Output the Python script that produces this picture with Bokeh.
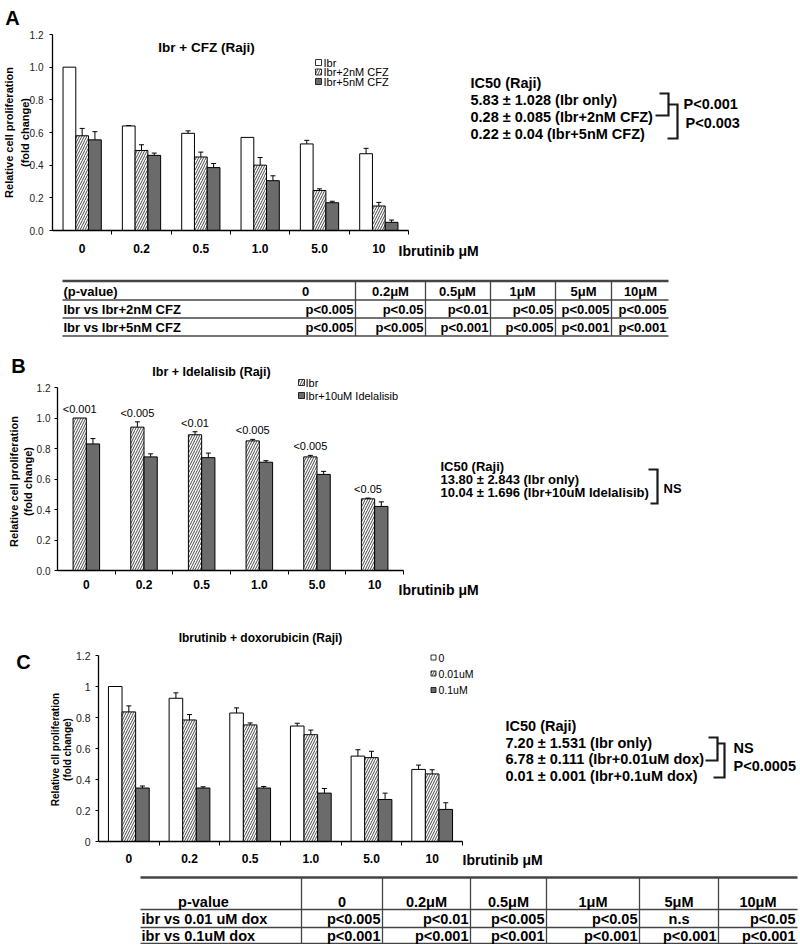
import math
from bokeh.plotting import figure
from bokeh.models import Range1d, FixedTicker, LinearAxis, ColumnDataSource
from bokeh.embed import file_html
from bokeh.resources import INLINE
from bokeh.core.properties import value

FONT = "Liberation Sans"
W, H = 800, 944

# ---------------- data ----------------
groups = ["0", "0.2", "0.5", "1.0", "5.0", "10"]
y_ticks = [0, 0.2, 0.4, 0.6, 0.8, 1.0, 1.2]
y_labels_ab = ["0.0", "0.2", "0.4", "0.6", "0.8", "1.0", "1.2"]
y_labels_c = ["0", "0.2", "0.4", "0.6", "0.8", "1", "1.2"]
x_title = "Ibrutinib μM"
y_title = ["Relative cell proliferation", "(fold change)"]
y_title_c = ["Relative cll proliferation", "(fold change)"]

# Panel A
a_title = "Ibr + CFZ (Raji)"
a_names = ["Ibr", "Ibr+2nM CFZ", "Ibr+5nM CFZ"]
a_ibr = [1.0, 0.64, 0.595, 0.57, 0.53, 0.47]
a_ibr_err = [0.0, 0.003, 0.015, 0.0, 0.022, 0.033]
a_cfz2 = [0.58, 0.49, 0.45, 0.40, 0.245, 0.15]
a_cfz2_err = [0.045, 0.035, 0.03, 0.047, 0.01, 0.022]
a_cfz5 = [0.555, 0.46, 0.385, 0.305, 0.17, 0.05]
a_cfz5_err = [0.05, 0.014, 0.025, 0.03, 0.009, 0.014]
a_ic50 = ["IC50 (Raji)", "5.83 ± 1.028 (Ibr only)",
          "0.28 ± 0.085 (Ibr+2nM CFZ)", "0.22 ± 0.04 (Ibr+5nM CFZ)"]
a_sig = ["P<0.001", "P<0.003"]
a_tab_head = ["(p-value)", "0", "0.2μM", "0.5μM", "1μM", "5μM", "10μM"]
a_tab_rows = [
    ["Ibr vs Ibr+2nM CFZ", "p<0.005", "p<0.05", "p<0.01", "p<0.05", "p<0.005", "p<0.005"],
    ["Ibr vs Ibr+5nM CFZ", "p<0.005", "p<0.005", "p<0.001", "p<0.005", "p<0.001", "p<0.001"],
]

# Panel B
b_title = "Ibr + Idelalisib (Raji)"
b_names = ["Ibr", "Ibr+10uM Idelalisib"]
b_ibr = [1.0, 0.94, 0.89, 0.85, 0.745, 0.47]
b_ibr_err = [0.0, 0.035, 0.02, 0.01, 0.01, 0.005]
b_idel = [0.83, 0.745, 0.74, 0.71, 0.63, 0.42]
b_idel_err = [0.035, 0.02, 0.03, 0.01, 0.02, 0.03]
b_pvals = ["<0.001", "<0.005", "<0.01", "<0.005", "<0.005", "<0.05"]
b_ic50 = ["IC50 (Raji)", "13.80 ± 2.843 (Ibr only)", "10.04 ± 1.696 (Ibr+10uM Idelalisib)"]
b_sig = ["NS"]

# Panel C
c_title = "Ibrutinib + doxorubicin (Raji)"
c_names = ["0", "0.01uM", "0.1uM"]
c_dox0 = [1.0, 0.924, 0.829, 0.745, 0.551, 0.465]
c_dox0_err = [0.0, 0.035, 0.033, 0.018, 0.041, 0.028]
c_dox001 = [0.836, 0.784, 0.752, 0.689, 0.541, 0.436]
c_dox001_err = [0.039, 0.035, 0.013, 0.03, 0.041, 0.027]
c_dox01 = [0.345, 0.345, 0.345, 0.312, 0.271, 0.207]
c_dox01_err = [0.013, 0.008, 0.01, 0.03, 0.041, 0.043]
c_ic50 = ["IC50 (Raji)", "7.20 ± 1.531 (Ibr only)",
          "6.78 ± 0.111 (Ibr+0.01uM dox)", "0.01 ± 0.001 (Ibr+0.1uM dox)"]
c_sig = ["NS", "P<0.0005"]
c_tab_head = ["p-value", "0", "0.2μM", "0.5μM", "1μM", "5μM", "10μM"]
c_tab_rows = [
    ["ibr vs 0.01 uM dox", "p<0.005", "p<0.01", "p<0.005", "p<0.05", "n.s", "p<0.05"],
    ["ibr vs 0.1uM dox", "p<0.001", "p<0.001", "p<0.001", "p<0.001", "p<0.001", "p<0.001"],
]

# ---------------- styles ----------------
GRAY = "#6b6b6b"
LINE = "#1a1a1a"
ST_WHITE = dict(fill_color="white")
ST_HATCH = dict(fill_color="white", hatch_pattern="/", hatch_color="#333333",
                hatch_scale=5, hatch_weight=0.9)
ST_GRAY = dict(fill_color=GRAY)

# One page-sized canvas; every chart gets its own scales (extra ranges) + axes.
p = figure(width=W, height=H, x_range=Range1d(0, W), y_range=Range1d(H, 0),
           x_axis_type=None, y_axis_type=None, min_border=0,
           output_backend="svg", toolbar_location=None)
p.outline_line_color = None
p.background_fill_color = "white"
p.border_fill_color = "white"


def txt(rx, ry, s, size, bold=False, align="left", angle=0.0):
    p.text(x=[rx], y=[ry], text=[s], text_font=value(FONT), text_font_size=value(f"{size}px"),
           text_font_style="bold" if bold else "normal", text_align=align,
           text_baseline="middle", text_color="black", angle=angle)


def poly(pts, width=2.2):
    p.line(x=[a for a, b in pts], y=[b for a, b in pts], line_color=LINE,
           line_width=width, line_join="miter")


def legend(names, styles, sq_x, ys, size, text_x, font_size):
    for name, st, ry in zip(names, styles, ys):
        p.scatter(x=[sq_x], y=[ry], marker="square", size=size, line_color="black",
                  line_width=0.8, **st)
        txt(text_x, ry, name, font_size)


class Chart:
    def __init__(self, name, x0, x1, ybot, ytop, sx, sy, ylabels, tick_size=10):
        self.xn, self.yn = name + "_x", name + "_y"
        gx = (x1 - x0) / 6.0
        gy = (ybot - ytop) / 1.2
        self.gx = gx
        p.extra_x_ranges[self.xn] = Range1d(-x0 / gx, (W - x0) / gx)
        p.extra_y_ranges[self.yn] = Range1d((ybot - H) / gy, ybot / gy)
        n = len(groups)
        xa = LinearAxis(x_range_name=self.xn, y_range_name=self.yn, fixed_location=0,
                        ticker=FixedTicker(ticks=[i + 0.5 for i in range(n)],
                                           minor_ticks=[i + 1 for i in range(n)]),
                        major_label_overrides={i + 0.5: g for i, g in enumerate(groups)},
                        bounds=(0, n))
        xa.major_tick_in = 0
        xa.major_tick_out = 0
        xa.minor_tick_in = 0
        xa.minor_tick_out = 4
        xa.minor_tick_line_color = "black"
        xa.axis_line_color = "black"
        xa.axis_line_width = 1.3
        xa.major_label_text_font = FONT
        xa.major_label_text_font_size = "12px"
        xa.major_label_text_font_style = "bold"
        xa.major_label_text_color = "black"
        xa.major_label_standoff = sx
        p.add_layout(xa, "below")
        ya = LinearAxis(x_range_name=self.xn, y_range_name=self.yn, fixed_location=0,
                        ticker=FixedTicker(ticks=y_ticks),
                        major_label_overrides={t: l for t, l in zip(y_ticks, ylabels)},
                        bounds=(0, 1.2))
        ya.major_tick_in = 0
        ya.major_tick_out = 3
        ya.major_tick_line_color = "black"
        ya.minor_tick_line_color = None
        ya.axis_line_color = "black"
        ya.axis_line_width = 1.3
        ya.major_label_text_font = FONT
        ya.major_label_text_font_size = f"{tick_size}px"
        ya.major_label_text_color = "#222222"
        ya.major_label_standoff = sy
        p.add_layout(ya, "left")

    def bars(self, vals_list, errs_list, styles, width):
        n = len(vals_list)
        cap = 2.5 / self.gx
        rn = dict(x_range_name=self.xn, y_range_name=self.yn)
        xs_all = []
        for k, (vals, st) in enumerate(zip(vals_list, styles)):
            off = (k - (n - 1) / 2.0) * width
            xs = [i + 0.5 + off for i in range(len(vals))]
            xs_all.append(xs)
            src = ColumnDataSource(dict(x=xs, top=vals))
            p.vbar(x="x", top="top", bottom=0, width=width, source=src,
                   line_color="black", line_width=1, **st, **rn)
        for xs, vals, errs in zip(xs_all, vals_list, errs_list):
            ex = [x for x, e in zip(xs, errs) if e > 0]
            lo = [v for v, e in zip(vals, errs) if e > 0]
            hi = [v + e for v, e in zip(vals, errs) if e > 0]
            p.segment(x0=ex, y0=lo, x1=ex, y1=hi, line_color="black", line_width=1, **rn)
            p.segment(x0=[x - cap for x in ex], y0=hi, x1=[x + cap for x in ex], y1=hi,
                      line_color="black", line_width=1, **rn)
        return xs_all


def table_text(x, y, s, align, size):
    p.text(x=[x], y=[y], text=[s], text_font=value(FONT), text_font_size=value(f"{size}px"),
           text_font_style="bold", text_align=align, text_baseline="middle", text_color="black")


def draw_table(left, right, vlines, val_rights, head_x, head_y, row_ys, lines_y, head, rows,
               head_first_x, head_first_align, size, center_cells=()):
    p.segment(x0=[left], y0=[lines_y[0]], x1=[right], y1=[lines_y[0]],
              line_color="#444444", line_width=2.6)
    k = len(lines_y) - 1
    p.segment(x0=[left] * k, y0=lines_y[1:], x1=[right] * k, y1=lines_y[1:],
              line_color="#444444", line_width=1.4)
    p.segment(x0=vlines, y0=[lines_y[0]] * len(vlines), x1=vlines,
              y1=[lines_y[-1]] * len(vlines), line_color="#444444", line_width=1.3)
    table_text(head_first_x, head_y, head[0], head_first_align, size)
    for hx, h in zip(head_x, head[1:]):
        table_text(hx, head_y, h, "center", size)
    for ry, row in zip(row_ys, rows):
        table_text(left + 1, ry, row[0], "left", size)
        for j, cell in enumerate(row[1:]):
            if cell in center_cells:
                table_text(head_x[j], ry, cell, "center", size)
            else:
                table_text(val_rights[j] - 2, ry, cell, "right", size)


# ================= Panel A =================
A = Chart("a", x0=52, x1=408, ybot=230, ytop=34, sx=9, sy=6, ylabels=y_labels_ab)
A.bars([a_ibr, a_cfz2, a_cfz5], [a_ibr_err, a_cfz2_err, a_cfz5_err],
       [ST_WHITE, ST_HATCH, ST_GRAY], 0.215)
txt(206, 47, a_title, 13.5, bold=True, align="center")
legend(a_names, [ST_WHITE, ST_HATCH, ST_GRAY], 318, [62, 71.5, 81], 6, 323, 11)
txt(12, 17, "A", 20, bold=True, align="center")
txt(8, 132, y_title[0], 11, bold=True, align="center", angle=math.pi / 2)
txt(24, 132, y_title[1], 11, bold=True, align="center", angle=math.pi / 2)
txt(398, 250, x_title, 14, bold=True)
for s, ry in zip(a_ic50, [82, 99, 116.5, 133]):
    txt(470, ry, s, 14.5, bold=True)
poly([(659, 93), (668, 93), (668, 115), (655, 115)])
poly([(668, 104), (677, 104), (677, 138), (667, 138)])
txt(683, 103, a_sig[0], 14.5, bold=True)
txt(685, 122, a_sig[1], 14.5, bold=True)

# ================= Table A =================
draw_table(62, 668, [355, 425, 490, 555, 611], [355, 425, 490, 555, 611, 668],
           [305, 390, 457, 522, 583, 640], 291, [308.5, 326.5],
           [280.5, 299.5, 317.5, 335.5], a_tab_head, a_tab_rows,
           head_first_x=63, head_first_align="left", size=13)

# ================= Panel B =================
B = Chart("b", x0=57, x1=403, ybot=570, ytop=387, sx=5, sy=4, ylabels=y_labels_ab)
bx = B.bars([b_ibr, b_idel], [b_ibr_err, b_idel_err], [ST_HATCH, ST_GRAY], 0.23)
p.text(x=bx[0], y=[v + e + 0.06 for v, e in zip(b_ibr, b_ibr_err)], text=b_pvals,
       text_font=value(FONT), text_font_size=value("11px"), text_align="center",
       text_baseline="middle", text_color="black", x_range_name=B.xn, y_range_name=B.yn)
txt(211, 371, b_title, 12.5, bold=True, align="center")
legend(b_names, [ST_HATCH, ST_GRAY], 301, [382, 395], 6, 305, 11)
txt(18, 365, "B", 20, bold=True, align="center")
txt(13, 481, y_title[0], 11, bold=True, align="center", angle=math.pi / 2)
txt(27, 481, y_title[1], 11, bold=True, align="center", angle=math.pi / 2)
txt(398, 589, x_title, 14, bold=True)
for s, ry in zip(b_ic50, [466, 479, 492]):
    txt(440, ry, s, 13, bold=True)
poly([(648, 469), (657, 469), (657, 503), (650, 503)])
txt(663, 488, b_sig[0], 13, bold=True)

# ================= Panel C =================
C = Chart("c", x0=98, x1=462, ybot=841, ytop=655, sx=8, sy=5, ylabels=y_labels_c,
          tick_size=10.5)
C.bars([c_dox0, c_dox001, c_dox01], [c_dox0_err, c_dox001_err, c_dox01_err],
       [ST_WHITE, ST_HATCH, ST_GRAY], 0.224)
txt(260, 637, c_title, 12, bold=True, align="center")
legend(c_names, [ST_WHITE, ST_HATCH, ST_GRAY], 433, [657, 673, 689.5], 5, 438, 10.5)
txt(23, 661, "C", 20, bold=True, align="center")
txt(55, 749, y_title_c[0], 10, bold=True, align="center", angle=math.pi / 2)
txt(67, 749, y_title_c[1], 10, bold=True, align="center", angle=math.pi / 2)
txt(462, 859, x_title, 14, bold=True)
for s, ry in zip(c_ic50, [725, 742, 758.5, 775]):
    txt(505, ry, s, 14.5, bold=True)
poly([(708, 737), (717, 737), (717, 760), (705, 760)])
poly([(717, 743), (724, 743), (724, 777), (713, 777)])
txt(733, 747, c_sig[0], 14.5, bold=True)
txt(733, 765, c_sig[1], 14.5, bold=True)

# ================= Table C =================
c_seps = [301, 382, 470, 546, 639, 718]
c_right = 797
c_rights = c_seps[1:] + [c_right]
c_head_x = [(a + b) / 2 for a, b in zip(c_seps, c_rights)]
draw_table(140, c_right, c_seps, c_rights, c_head_x, 901, [918.5, 935.5],
           [877, 909, 927, 943], c_tab_head, c_tab_rows,
           head_first_x=203, head_first_align="center", size=14.5, center_cells=("n.s",))

open("out.html", "w").write(file_html(p, INLINE))
